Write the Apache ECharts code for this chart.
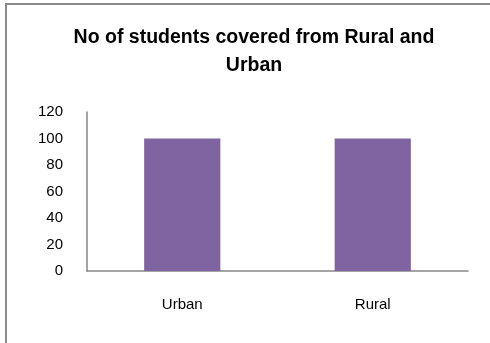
<!DOCTYPE html>
<html>
<head>
<meta charset="utf-8">
<script src="https://cdn.jsdelivr.net/npm/echarts@6/dist/echarts.min.js"></script>
<style>
html,body{margin:0;padding:0;background:#fff;}
#chart{width:490px;height:343px;}
</style>
</head>
<body>
<div id="chart"></div>
<script>
const titleText = 'No of students covered from Rural and\nUrban';
const categories = ['Urban', 'Rural'];
const studentCounts = [100, 100];
const yTicks = {min: 0, max: 120, interval: 20};

const chart = echarts.init(document.getElementById('chart'), null, {renderer: 'canvas'});
chart.setOption({
  animation: false,
  backgroundColor: '#ffffff',
  graphic: [{
    type: 'rect',
    shape: {x: 6, y: 4, width: 700, height: 700},
    style: {fill: 'none', stroke: '#8a8a8a', lineWidth: 2},
    silent: true
  }],
  title: {
    text: titleText,
    left: 254,
    top: 24,
    padding: 0,
    textAlign: 'center',
    textStyle: {
      fontFamily: 'Liberation Sans',
      fontWeight: 'bold',
      fontSize: 19.5,
      lineHeight: 28,
      color: '#000000'
    }
  },
  grid: {left: 87, right: 22, top: 112, bottom: 72, containLabel: false},
  xAxis: {
    type: 'category',
    data: categories,
    axisLine: {show: true, lineStyle: {color: '#868686', width: 1.5}},
    axisTick: {show: false},
    axisLabel: {margin: 26, fontFamily: 'Liberation Sans', fontSize: 15, color: '#000000'},
    splitLine: {show: false}
  },
  yAxis: {
    type: 'value',
    min: yTicks.min,
    max: yTicks.max,
    interval: yTicks.interval,
    axisLine: {show: true, lineStyle: {color: '#868686', width: 1.5}},
    axisTick: {show: false},
    axisLabel: {margin: 24, fontFamily: 'Liberation Sans', fontSize: 15, color: '#000000'},
    splitLine: {show: false}
  },
  series: [{
    type: 'bar',
    data: studentCounts,
    barWidth: '40%',
    itemStyle: {color: '#8064A2'}
  }]
});
</script>
</body>
</html>
